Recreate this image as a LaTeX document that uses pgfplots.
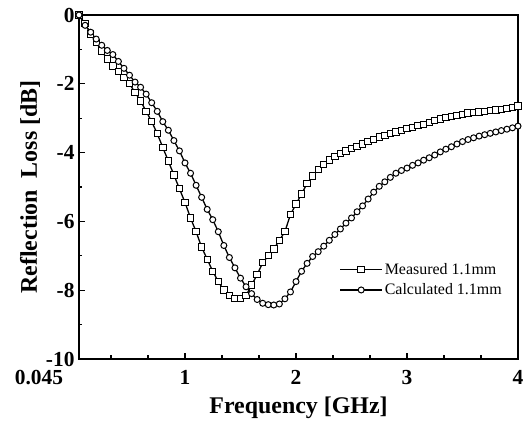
\documentclass[border=0pt]{standalone}
\usepackage{fontspec}
\setmainfont{Liberation Serif}
\usepackage{pgfplots}
\pgfplotsset{compat=1.18}
\begin{document}
\begin{tikzpicture}
\begin{axis}[
  scale only axis, width=439bp, height=344bp,
  xmin=0.045, xmax=4, ymin=-10, ymax=0,
  xtick={0.045,1,2,3,4},
  xticklabels={{\makebox[0pt][r]{0.045\hspace{16bp}}},1,2,3,4},
  ytick={-10,-8,-6,-4,-2,0},
  yticklabels={-10,-8,-6,-4,-2,0},
  minor xtick={0.3333,0.6667,1.3333,1.6667,2.3333,2.6667,3.3333,3.6667},
  minor ytick={-9,-7,-5,-3,-1},
  tick pos=left, tick align=inside,
  major tick length=6bp, minor tick length=3.5bp,
  axis line style={line width=1.3bp},
  every tick/.style={black, line width=1.1bp},
  /pgf/number format/assume math mode=true,
  ticklabel style={font=\bfseries\fontsize{21.5}{21.5}\selectfont},
  xticklabel style={yshift=-8bp},
  yticklabel style={xshift=-1bp},
  xlabel={Frequency [GHz]},
  ylabel={Reflection\ \ Loss [dB]},
  label style={font=\bfseries\fontsize{24}{24}\selectfont},
  xlabel style={yshift=-5bp},
  ylabel style={yshift=-1bp},
  legend style={at={(rel axis cs:0.593,0.285)}, anchor=north west, draw=none, fill=none,
    font=\fontsize{16}{16}\selectfont, row sep=4bp, inner sep=0pt},
  legend cell align=left,
  legend image code/.code={\draw[#1, mark repeat=2, mark phase=2] plot coordinates {(0bp,0bp) (21bp,0bp) (42bp,0bp)};},
]
\addplot[black, line width=1.3bp, mark=square*, mark size=3.2bp, mark options={fill=white, line width=1bp}] coordinates {
(0.045,0) (0.10,-0.25) (0.15,-0.55) (0.20,-0.80) (0.25,-1.05) (0.30,-1.28) (0.35,-1.48) (0.40,-1.65)
(0.45,-1.82) (0.50,-2.0) (0.55,-2.25) (0.60,-2.5) (0.65,-2.8) (0.70,-3.1) (0.75,-3.45) (0.80,-3.85)
(0.85,-4.25) (0.90,-4.65) (0.95,-5.05) (1.00,-5.45) (1.05,-5.9) (1.10,-6.3) (1.15,-6.75) (1.20,-7.1)
(1.25,-7.45) (1.30,-7.75) (1.35,-8.0) (1.40,-8.15) (1.45,-8.25) (1.50,-8.25) (1.55,-8.15) (1.60,-7.85)
(1.65,-7.55) (1.70,-7.2) (1.75,-7.0) (1.80,-6.8) (1.85,-6.55) (1.90,-6.3) (1.95,-5.8) (2.00,-5.5)
(2.05,-5.2) (2.10,-4.9) (2.15,-4.68) (2.20,-4.5) (2.25,-4.35) (2.30,-4.22) (2.35,-4.12) (2.40,-4.03)
(2.45,-3.95) (2.50,-3.88) (2.55,-3.82) (2.60,-3.75) (2.65,-3.68) (2.70,-3.62) (2.75,-3.55) (2.80,-3.5)
(2.85,-3.45) (2.90,-3.4) (2.95,-3.35) (3.00,-3.3) (3.05,-3.27) (3.10,-3.22) (3.15,-3.18) (3.20,-3.12)
(3.25,-3.07) (3.30,-3.02) (3.35,-2.98) (3.40,-2.95) (3.45,-2.93) (3.50,-2.9) (3.55,-2.85) (3.60,-2.84)
(3.65,-2.82) (3.70,-2.8) (3.75,-2.78) (3.80,-2.76) (3.85,-2.74) (3.90,-2.72) (3.95,-2.69) (4.00,-2.65)
};
\addlegendentry{Measured 1.1mm}
\addplot[black, line width=1.3bp, mark=*, mark size=3bp, mark options={fill=white, line width=1bp}] coordinates {
(0.045,0) (0.10,-0.3) (0.15,-0.5) (0.20,-0.7) (0.25,-0.88) (0.30,-1.03) (0.35,-1.15) (0.40,-1.35)
(0.45,-1.55) (0.50,-1.75) (0.55,-1.95) (0.60,-2.1) (0.65,-2.3) (0.70,-2.55) (0.75,-2.8) (0.80,-3.1)
(0.85,-3.35) (0.90,-3.65) (0.95,-3.95) (1.00,-4.3) (1.05,-4.6) (1.10,-4.95) (1.15,-5.3) (1.20,-5.65)
(1.25,-5.95) (1.30,-6.3) (1.35,-6.7) (1.40,-7.05) (1.45,-7.35) (1.50,-7.65) (1.55,-7.9) (1.60,-8.1)
(1.65,-8.27) (1.70,-8.38) (1.75,-8.42) (1.80,-8.43) (1.85,-8.4) (1.90,-8.25) (1.95,-8.05) (2.00,-7.75)
(2.05,-7.45) (2.10,-7.22) (2.15,-7.02) (2.20,-6.88) (2.25,-6.72) (2.30,-6.55) (2.35,-6.38) (2.40,-6.22)
(2.45,-6.05) (2.50,-5.9) (2.55,-5.72) (2.60,-5.55) (2.65,-5.35) (2.70,-5.15) (2.75,-4.98) (2.80,-4.85)
(2.85,-4.72) (2.90,-4.6) (2.95,-4.52) (3.00,-4.45) (3.05,-4.37) (3.10,-4.3) (3.15,-4.22) (3.20,-4.15)
(3.25,-4.07) (3.30,-3.98) (3.35,-3.9) (3.40,-3.83) (3.45,-3.75) (3.50,-3.68) (3.55,-3.62) (3.60,-3.57)
(3.65,-3.52) (3.70,-3.48) (3.75,-3.44) (3.80,-3.4) (3.85,-3.36) (3.90,-3.32) (3.95,-3.28) (4.00,-3.23)
};
\addlegendentry{Calculated 1.1mm}
\end{axis}
\path ([xshift=-79bp,yshift=-64bp]current axis.south west) rectangle ([xshift=11bp,yshift=15bp]current axis.north east);
\end{tikzpicture}
\end{document}
